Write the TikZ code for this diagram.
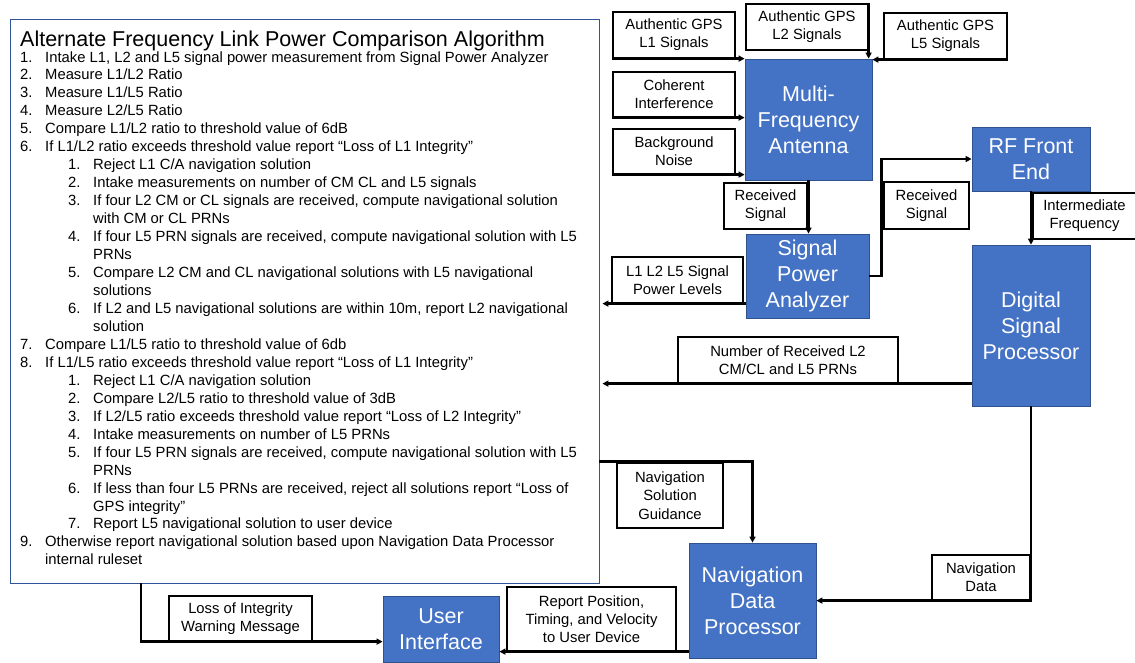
\documentclass[tikz,border=0pt]{standalone}
\usepackage{fontspec}
\setmainfont{Liberation Sans}
\usetikzlibrary{arrows.meta}
\definecolor{boxblue}{HTML}{4472C4}
\definecolor{boxedge}{HTML}{2F528F}
\definecolor{frameblue}{HTML}{2F5597}

% rows of the algorithm listing: top level, sub level, wrapped continuation
\newcommand\toprow[4]{%
  \node[algtxt] (#1n) at (20,{62+17.96*#2}) {#3};
  \node[algtxt] (#1t) at (45,{62+17.96*#2}) {#4};}
\newcommand\subrow[4]{%
  \node[algtxt] (#1n) at (68,{62+17.96*#2}) {#3};
  \node[algtxt] (#1t) at (93,{62+17.96*#2}) {#4};}
\newcommand\controw[4]{%
  \node[algtxt] (#1) at (#3,{62+17.96*#2}) {#4};}

\begin{document}
\begin{tikzpicture}[x=1pt,y=-1pt,
  blk/.style={fill=boxblue, draw=boxedge, line width=0.8pt, text=white,
    align=center, font=\fontsize{21.5}{26}\selectfont, inner sep=0pt},
  lbl/.style={fill=white, draw=black, line width=1.2pt, align=center,
    font=\fontsize{14.8}{18.3}\selectfont, inner sep=0pt},
  link/.style={line width=2.3pt, -{Triangle[length=6pt,width=6pt]}},
  algtxt/.style={anchor=base west, inner sep=0pt,
    font=\fontsize{14.8}{18}\selectfont}]
\useasboundingbox (0,0) rectangle (1135,662);

% ---------- algorithm panel ----------
\node[draw=frameblue, line width=0.9pt, minimum width=589pt,
  minimum height=564pt, inner sep=0pt] (alg) at (304.5,301) {};
\node[anchor=base west, inner sep=0pt, font=\fontsize{21.5}{26}\selectfont]
  (title) at (20,46) {Alternate Frequency Link Power Comparison Algorithm};

\toprow{a1}{0}{1.}{Intake L1, L2 and L5 signal power measurement from Signal Power Analyzer}
\toprow{a2}{1}{2.}{Measure L1/L2 Ratio}
\toprow{a3}{2}{3.}{Measure L1/L5 Ratio}
\toprow{a4}{3}{4.}{Measure L2/L5 Ratio}
\toprow{a5}{4}{5.}{Compare L1/L2 ratio to threshold value of 6dB}
\toprow{a6}{5}{6.}{If L1/L2 ratio exceeds threshold value report “Loss of L1 Integrity”}
\subrow{b1}{6}{1.}{Reject L1 C/A navigation solution}
\subrow{b2}{7}{2.}{Intake measurements on number of CM CL and L5 signals}
\subrow{b3}{8}{3.}{If four L2 CM or CL signals are received, compute navigational solution}
\controw{b3c}{9}{93}{with CM or CL PRNs}
\subrow{b4}{10}{4.}{If four L5 PRN signals are received, compute navigational solution with L5}
\controw{b4c}{11}{93}{PRNs}
\subrow{b5}{12}{5.}{Compare L2 CM and CL navigational solutions with L5 navigational}
\controw{b5c}{13}{93}{solutions}
\subrow{b6}{14}{6.}{If L2 and L5 navigational solutions are within 10m, report L2 navigational}
\controw{b6c}{15}{93}{solution}
\toprow{a7}{16}{7.}{Compare L1/L5 ratio to threshold value of 6db}
\toprow{a8}{17}{8.}{If L1/L5 ratio exceeds threshold value report “Loss of L1 Integrity”}
\subrow{c1}{18}{1.}{Reject L1 C/A navigation solution}
\subrow{c2}{19}{2.}{Compare L2/L5 ratio to threshold value of 3dB}
\subrow{c3}{20}{3.}{If L2/L5 ratio exceeds threshold value report “Loss of L2 Integrity”}
\subrow{c4}{21}{4.}{Intake measurements on number of L5 PRNs}
\subrow{c5}{22}{5.}{If four L5 PRN signals are received, compute navigational solution with L5}
\controw{c5c}{23}{93}{PRNs}
\subrow{c6}{24}{6.}{If less than four L5 PRNs are received, reject all solutions report “Loss of}
\controw{c6c}{25}{93}{GPS integrity”}
\subrow{c7}{26}{7.}{Report L5 navigational solution to user device}
\toprow{a9}{27}{9.}{Otherwise report navigational solution based upon Navigation Data Processor}
\controw{a9c}{28}{45}{internal ruleset}

% ---------- processing blocks ----------
\node[blk, minimum width=127pt, minimum height=121pt] (ant) at (808.5,119.5) {Multi-\\Frequency\\Antenna};
\node[blk, minimum width=123pt, minimum height=84pt] (spa) at (807.5,276) {Signal\\Power\\Analyzer};
\node[blk, minimum width=118pt, minimum height=64pt] (rf) at (1031,159) {RF Front\\End};
\node[blk, minimum width=118pt, minimum height=161pt] (dsp) at (1031,325.5) {Digital\\Signal\\Processor};
\node[blk, minimum width=127pt, minimum height=115pt] (ndp) at (752.5,600.5) {Navigation\\Data\\Processor};
\node[blk, minimum width=116pt, minimum height=66pt] (ui) at (441,629) {User\\Interface};

% ---------- signal labels ----------
\node[lbl, minimum width=122pt, minimum height=46pt] (gpsL1) at (674,35) {Authentic GPS\\L1 Signals};
\node[lbl, minimum width=122pt, minimum height=46pt] (gpsL2) at (807,27) {Authentic GPS\\L2 Signals};
\node[lbl, minimum width=123pt, minimum height=46pt] (gpsL5) at (945.5,36) {Authentic GPS\\L5 Signals};
\node[lbl, minimum width=122pt, minimum height=45pt] (coh) at (674,94.5) {Coherent\\Interference};
\node[lbl, minimum width=122pt, minimum height=45pt] (noise) at (674,151.5) {Background\\Noise};
\node[lbl, minimum width=83pt, minimum height=46pt] (rx1) at (765.5,206) {Received\\Signal};
\node[lbl, minimum width=85pt, minimum height=47pt] (rx2) at (926.5,205.5) {Received\\Signal};
\node[lbl, minimum width=131pt, minimum height=46pt] (pwr) at (677.5,280) {L1 L2 L5 Signal\\Power Levels};
\node[lbl, minimum width=103pt, minimum height=46pt] (ifreq) at (1084.5,216) {Intermediate\\Frequency};
\node[lbl, minimum width=220pt, minimum height=46pt] (prn) at (788,360) {Number of Received L2\\CM/CL and L5 PRNs};
\node[lbl, minimum width=106pt, minimum height=65pt] (nsg) at (670,495.5) {Navigation\\Solution\\Guidance};
\node[lbl, minimum width=98pt, minimum height=45pt] (nd) at (981,577.5) {Navigation\\Data};
\node[lbl, minimum width=169pt, minimum height=64pt] (rep) at (591.5,619) {Report Position,\\Timing, and Velocity\\to User Device};
\node[lbl, minimum width=143pt, minimum height=45pt] (loss) at (240.5,618.5) {Loss of Integrity\\Warning Message};

\coordinate (lossTap) at (141,583);

% ---------- connectors ----------
\draw[link] (gpsL1.south west) -- (gpsL1.south west -| ant.west);
\draw[link] (coh.south west) -- (coh.south west -| ant.west);
\draw[link] (noise.south west) -- (noise.south west -| ant.west);
\draw[link] (gpsL2.north east) -- (gpsL2.north east |- ant.north);
\draw[link] (gpsL5.south east) -- (gpsL5.south east -| ant.east);
\draw[link] (ant.south) -- (ant.south |- spa.north);
\draw[link] (spa.west |- pwr.south) -- ([xshift=3pt]pwr.south -| alg.east);
\draw[link] (spa.east) -- ++(12,0) |- (rf.west);
\draw[link] (rf.south) -- (rf.south |- dsp.north);
\draw[link] (dsp.west |- prn.south) -- ([xshift=3pt]prn.south -| alg.east);
\draw[link] (dsp.south) |- (nd.south -| ndp.east);
\draw[link] ([yshift=1pt]nsg.north -| alg.east) -| (ndp.north);
\draw[link] (ndp.west |- rep.south) -- (rep.south -| ui.east);
\draw[link] (lossTap) |- (loss.south -| ui.west);
\end{tikzpicture}
\end{document}
